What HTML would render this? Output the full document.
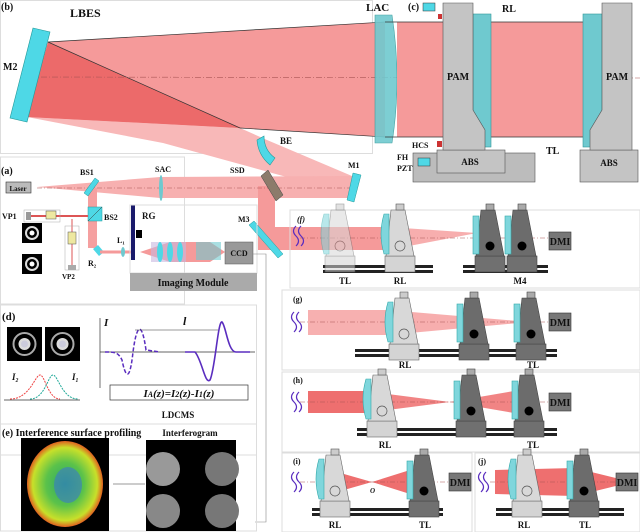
<!DOCTYPE html>
<html><head><meta charset="utf-8"><style>
html,body{margin:0;padding:0;background:#fff;}
svg{display:block;}
text{font-family:"Liberation Serif",serif;font-weight:bold;fill:#111;}
</style></head><body>
<svg width="640" height="532" viewBox="0 0 640 532" xmlns="http://www.w3.org/2000/svg">
<defs>
 <g id="lh">
  <rect x="-15" y="-16" width="30" height="16" fill="#d4d4d4" stroke="#666" stroke-width="0.6"/>
  <polygon points="-9,-62 5,-62 14,-16 -14,-16" fill="#d8d8d8" stroke="#666" stroke-width="0.6"/>
  <rect x="-4" y="-68" width="8" height="6" fill="#ccc" stroke="#555" stroke-width="0.6"/>
  <circle cx="0" cy="-26" r="5" fill="none" stroke="#555" stroke-width="0.7"/>
  <path d="M-16,-58 Q-22,-38 -16,-18 L-11,-18 L-11,-58 Z" fill="#7fd6dc" stroke="#3aa" stroke-width="0.6"/>
 </g>
 <g id="dh">
  <rect x="-15" y="-16" width="30" height="16" fill="#707070" stroke="#444" stroke-width="0.6"/>
  <polygon points="-9,-62 5,-62 14,-16 -14,-16" fill="#6c6c6c" stroke="#444" stroke-width="0.6"/>
  <rect x="-4" y="-68" width="8" height="6" fill="#aaa" stroke="#444" stroke-width="0.6"/>
  <circle cx="0" cy="-26" r="4.5" fill="#000"/>
  <rect x="-17" y="-56" width="6" height="38" fill="#7fd6dc" stroke="#3aa" stroke-width="0.6"/>
 </g>
 <g id="rail"><rect x="0" y="0" width="100" height="8" fill="#222"/><rect x="0" y="3" width="100" height="2" fill="#fff"/></g>
 <g id="wave" fill="none" stroke="#5a2dbf" stroke-width="1.2"><path d="M0,0 q-5,5 0,10 q5,5 0,10"/><path d="M5,0 q-5,5 0,10 q5,5 0,10"/></g>
 <g id="dmi"><rect x="0" y="0" width="22" height="18" fill="#777" stroke="#333" stroke-width="0.6"/><text x="11" y="13" font-size="10" text-anchor="middle" fill="#fff">DMI</text></g>
</defs>

<!-- (b) frame -->
<rect x="0.5" y="0.5" width="372" height="153" fill="none" stroke="#ddd"/>
<text x="1" y="10" font-size="10">(b)</text>
<text x="70" y="17" font-size="12">LBES</text>
<polygon points="48,42 385,22 385,137 240,128 27,117" fill="#f59a9a"/>
<polygon points="27,117 240,128 267,140 352,176 352,195 163,143" fill="#f8b8b8"/>
<polygon points="48,42 240,128 27,117" fill="#ec6a6a"/>
<line x1="48" y1="42" x2="385" y2="22" stroke="#333" stroke-width="0.7"/>
<line x1="48" y1="42" x2="240" y2="128" stroke="#333" stroke-width="0.7"/>
<line x1="240" y1="128" x2="385" y2="137" stroke="#333" stroke-width="0.7"/>
<line x1="30" y1="77" x2="640" y2="78" stroke="#a55" stroke-width="0.6" stroke-dasharray="6,2,1,2"/>
<polygon points="33,28 50,32 27,122 10,118" fill="#4ed8e6" stroke="#299" stroke-width="0.6"/>
<text x="3" y="70" font-size="10">M2</text>
<path d="M375,15 L392,15 Q402,80 392,143 L375,143 Z" fill="#6fc9cf" stroke="#399" stroke-width="0.6" opacity="0.9"/>
<text x="366" y="11" font-size="11">LAC</text>
<path d="M257,140 L264,136 Q264,150 275,158 L270,165 Q258,155 257,140Z" fill="#4ed8e6" stroke="#299" stroke-width="0.6"/>
<text x="280" y="144" font-size="9">BE</text>

<!-- (c) -->
<rect x="397" y="22" width="205" height="115" fill="#f59a9a"/>
<line x1="385" y1="22" x2="600" y2="22" stroke="#333" stroke-width="0.7"/>
<line x1="385" y1="137" x2="600" y2="137" stroke="#333" stroke-width="0.7"/>
<rect x="413" y="153" width="122" height="29" fill="#bcbcbc" stroke="#555" stroke-width="0.6"/>
<rect x="437" y="150" width="68" height="23" fill="#c4c4c4" stroke="#555" stroke-width="0.6"/>
<text x="470" y="165" font-size="9" text-anchor="middle">ABS</text>
<rect x="473" y="14" width="18" height="133" fill="#6fc9cf" stroke="#399" stroke-width="0.6"/>
<polygon points="443,3 473,3 473,110 485,130 485,150 443,150" fill="#c4c4c4" stroke="#555" stroke-width="0.6"/>
<text x="458" y="80" font-size="10" text-anchor="middle">PAM</text>
<rect x="580" y="150" width="58" height="32" fill="#c4c4c4" stroke="#555" stroke-width="0.6"/>
<text x="609" y="166" font-size="9" text-anchor="middle">ABS</text>
<rect x="583" y="14" width="19" height="133" fill="#6fc9cf" stroke="#399" stroke-width="0.6"/>
<polygon points="602,3 632,3 632,150 590,150 590,130 602,110" fill="#c4c4c4" stroke="#555" stroke-width="0.6"/>
<text x="617" y="80" font-size="10" text-anchor="middle">PAM</text>
<text x="408" y="10" font-size="10">(c)</text>
<rect x="423" y="3" width="12" height="8" fill="#4ed8e6" stroke="#333" stroke-width="0.5"/>
<rect x="438" y="14" width="4" height="5" fill="#c33"/>
<rect x="437" y="141" width="5" height="6" fill="#c33"/>
<rect x="418" y="158" width="12" height="8" fill="#4ed8e6" stroke="#333" stroke-width="0.5"/>
<text x="502" y="12" font-size="10">RL</text>
<text x="412" y="148" font-size="8">HCS</text>
<text x="397" y="160" font-size="8">FH</text>
<text x="397" y="171" font-size="8">PZT</text>
<text x="546" y="154" font-size="10">TL</text>

<!-- (a) -->
<rect x="0.5" y="157" width="184" height="147" fill="none" stroke="#ddd"/>
<text x="1" y="174" font-size="10">(a)</text>
<polygon points="37,187 160,177 352,176 352,198 160,198" fill="#f7b0b0"/>
<rect x="258" y="186" width="17" height="64" fill="#f59a9a"/>
<rect x="258" y="227" width="130" height="23" fill="#f59a9a"/>
<polygon points="388,227 477,233 388,250" fill="#f59a9a" opacity="0.8"/>
<line x1="37" y1="188" x2="355" y2="188" stroke="#a55" stroke-width="0.5" stroke-dasharray="5,2,1,2"/>
<rect x="6" y="182" width="25" height="11" fill="#bbb" stroke="#333" stroke-width="0.6"/>
<text x="18" y="191" font-size="7" text-anchor="middle">Laser</text>
<rect x="88" y="188" width="9" height="60" fill="#f5a0a0"/>
<polygon points="84,193 95,178 99,181 88,196" fill="#4ed8e6" stroke="#299" stroke-width="0.5"/>
<text x="80" y="175" font-size="8">BS1</text>
<ellipse cx="161" cy="188" rx="2" ry="13" fill="#6fc9cf"/>
<text x="155" y="172" font-size="8">SAC</text>
<polygon points="261,176 268,170 283,195 276,201" fill="#8c7b6b" stroke="#444" stroke-width="0.5"/>
<text x="230" y="173" font-size="8">SSD</text>
<polygon points="347,200 353,173 361,175 354,202" fill="#4ed8e6" stroke="#299" stroke-width="0.5"/>
<text x="348" y="168" font-size="8">M1</text>
<polygon points="249,225 254,221 283,254 278,258" fill="#4ed8e6" stroke="#299" stroke-width="0.5"/>
<text x="238" y="222" font-size="8">M3</text>
<rect x="88" y="207" width="14" height="14" fill="#4ed8e6" stroke="#299" stroke-width="0.5"/>
<line x1="88" y1="221" x2="102" y2="207" stroke="#333" stroke-width="0.5"/>
<text x="104" y="220" font-size="8">BS2</text>
<line x1="28" y1="216" x2="88" y2="216" stroke="#d55" stroke-width="2"/>
<rect x="26" y="212" width="5" height="8" fill="#999"/>
<rect x="46" y="211" width="10" height="8" fill="#eee8a0" stroke="#555" stroke-width="0.5"/>
<rect x="24" y="210" width="36" height="12" fill="none" stroke="#aaa" stroke-width="0.5"/>
<text x="2" y="219" font-size="8">VP1</text>
<line x1="72" y1="219" x2="72" y2="266" stroke="#d55" stroke-width="1"/>
<rect x="68" y="232" width="8" height="12" fill="#eee8a0" stroke="#555" stroke-width="0.5"/>
<rect x="65" y="226" width="14" height="44" fill="none" stroke="#aaa" stroke-width="0.5"/>
<rect x="68" y="265" width="8" height="5" fill="#aaa"/>
<text x="62" y="279" font-size="7">VP2</text>
<rect x="22" y="223" width="20" height="20" fill="#000"/><circle cx="32" cy="233" r="6" fill="none" stroke="#ddd" stroke-width="2"/><circle cx="32" cy="233" r="2.5" fill="#fff"/>
<rect x="22" y="254" width="20" height="20" fill="#000"/><circle cx="32" cy="264" r="6" fill="none" stroke="#ddd" stroke-width="2"/><circle cx="32" cy="264" r="2.5" fill="#fff"/>
<polygon points="93,249 98,245 104,252 99,256" fill="#4ed8e6"/>
<text x="88" y="266" font-size="8">R₂</text>
<line x1="100" y1="252" x2="135" y2="252" stroke="#f59a9a" stroke-width="3"/>
<ellipse cx="123" cy="252" rx="2" ry="5" fill="#6fc9cf"/>
<text x="117" y="243" font-size="8">L₁</text>
<rect x="131" y="205" width="4" height="55" fill="#1a1a6b"/>
<rect x="136" y="230" width="6" height="8" fill="#000"/>
<text x="142" y="219" font-size="9">RG</text>
<rect x="130" y="205" width="127" height="68" fill="none" stroke="#ddd"/>
<polygon points="140,252 170,242 210,242 225,252 210,262 170,262" fill="#f59a9a"/>
<rect x="151" y="242" width="35" height="20" fill="#c8b8e0" opacity="0.6"/>
<ellipse cx="160" cy="252" rx="3" ry="10" fill="#4ed8e6"/><ellipse cx="170" cy="252" rx="3" ry="10" fill="#4ed8e6"/><ellipse cx="180" cy="252" rx="3" ry="10" fill="#4ed8e6"/>
<rect x="196" y="242" width="25" height="18" fill="#6fc9cf" opacity="0.6"/>
<rect x="225" y="242" width="28" height="22" fill="#999" stroke="#555" stroke-width="0.5"/>
<text x="239" y="256" font-size="8" text-anchor="middle">CCD</text>
<rect x="130" y="273" width="127" height="18" fill="#aaa"/>
<text x="193" y="286" font-size="10" text-anchor="middle">Imaging Module</text>
<polyline points="253,254 266,254 266,522 255,522" fill="none" stroke="#888" stroke-width="0.6"/>

<!-- (f) -->
<rect x="290" y="210" width="350" height="78" fill="none" stroke="#ddd"/>
<line x1="300" y1="238" x2="548" y2="238" stroke="#a55" stroke-width="0.5" stroke-dasharray="5,2,1,2"/>
<text x="297" y="222" font-size="8" font-style="italic">(f)</text>
<use href="#wave" x="296" y="226"/>
<use href="#rail" transform="translate(323,265) scale(1.1,1)"/>
<use href="#rail" transform="translate(463,265) scale(0.85,1)"/>
<g opacity="0.55"><use href="#lh" transform="translate(340,272)"/></g>
<use href="#lh" transform="translate(400,272)"/>
<use href="#dh" transform="translate(490,272)"/>
<use href="#dh" transform="translate(522,272)"/>
<use href="#dmi" x="549" y="232"/>
<text x="345" y="284" font-size="9" text-anchor="middle">TL</text>
<text x="400" y="284" font-size="9" text-anchor="middle">RL</text>
<text x="520" y="284" font-size="9" text-anchor="middle">M4</text>

<!-- (g) -->
<rect x="282" y="290" width="358" height="80" fill="none" stroke="#ddd"/>
<text x="293" y="302" font-size="8">(g)</text>
<rect x="308" y="310" width="80" height="25" fill="#f7b0b0"/>
<polygon points="388,310 530,322 388,335" fill="#f59a9a" opacity="0.8"/>
<line x1="300" y1="322" x2="548" y2="322" stroke="#a55" stroke-width="0.5" stroke-dasharray="5,2,1,2"/>
<use href="#wave" x="294" y="312"/>
<use href="#rail" transform="translate(355,349) scale(2.02,1)"/>
<use href="#lh" transform="translate(404,360)"/>
<use href="#dh" transform="translate(474,360)"/>
<use href="#dh" transform="translate(531,360)"/>
<use href="#dmi" x="549" y="313"/>
<text x="405" y="368" font-size="9" text-anchor="middle">RL</text>
<text x="533" y="368" font-size="9" text-anchor="middle">TL</text>

<!-- (h) -->
<rect x="282" y="372" width="358" height="80" fill="none" stroke="#ddd"/>
<text x="293" y="383" font-size="8">(h)</text>
<rect x="308" y="391" width="60" height="22" fill="#ee6f6f"/>
<polygon points="372,392 450,402 520,390 520,414 450,402 372,412" fill="#ee6f6f" opacity="0.85"/>
<line x1="300" y1="402" x2="548" y2="402" stroke="#a55" stroke-width="0.5" stroke-dasharray="5,2,1,2"/>
<use href="#wave" x="294" y="392"/>
<use href="#rail" transform="translate(357,428) scale(2.0,1)"/>
<use href="#lh" transform="translate(382,437)"/>
<use href="#dh" transform="translate(471,437)"/>
<use href="#dh" transform="translate(529,437)"/>
<use href="#dmi" x="549" y="393"/>
<text x="385" y="448" font-size="9" text-anchor="middle">RL</text>
<text x="533" y="448" font-size="9" text-anchor="middle">TL</text>

<!-- (i) -->
<rect x="282" y="453" width="190" height="79" fill="none" stroke="#ddd"/>
<text x="293" y="464" font-size="8">(i)</text>
<polygon points="330,470 372,482 410,470 410,494 372,482 330,494" fill="#ee6f6f"/>
<line x1="300" y1="482" x2="450" y2="482" stroke="#a55" stroke-width="0.5" stroke-dasharray="5,2,1,2"/>
<use href="#wave" x="294" y="472"/>
<use href="#rail" transform="translate(312,508) scale(1.31,1)"/>
<use href="#lh" transform="translate(335,517)"/>
<use href="#dh" transform="translate(424,517)"/>
<use href="#dmi" x="449" y="473"/>
<text x="370" y="493" font-size="7" font-style="italic">O</text>
<text x="335" y="528" font-size="9" text-anchor="middle">RL</text>
<text x="425" y="528" font-size="9" text-anchor="middle">TL</text>

<!-- (j) -->
<rect x="475" y="453" width="165" height="79" fill="none" stroke="#ddd"/>
<text x="478" y="464" font-size="8">(j)</text>
<polygon points="495,470 575,468 632,482 575,496 495,494" fill="#ee6f6f"/>
<line x1="490" y1="482" x2="620" y2="482" stroke="#a55" stroke-width="0.5" stroke-dasharray="5,2,1,2"/>
<use href="#wave" x="481" y="472"/>
<use href="#rail" transform="translate(496,508) scale(1.28,1)"/>
<use href="#lh" transform="translate(527,517)"/>
<use href="#dh" transform="translate(584,517)"/>
<use href="#dmi" x="616" y="473"/>
<text x="524" y="528" font-size="9" text-anchor="middle">RL</text>
<text x="585" y="528" font-size="9" text-anchor="middle">TL</text>

<!-- (d) -->
<rect x="0.5" y="305" width="256" height="150" fill="none" stroke="#ddd"/>
<text x="2" y="320" font-size="11">(d)</text>
<rect x="7" y="327" width="35" height="34" fill="#000"/><circle cx="24.5" cy="344" r="11" fill="none" stroke="#aaa" stroke-width="2"/><circle cx="24.5" cy="344" r="6" fill="#ddd"/><circle cx="24.5" cy="344" r="3.5" fill="#ccd"/>
<rect x="45" y="327" width="35" height="34" fill="#000"/><circle cx="62.5" cy="344" r="11" fill="none" stroke="#aaa" stroke-width="2"/><circle cx="62.5" cy="344" r="6" fill="#ddd"/><circle cx="62.5" cy="344" r="3.5" fill="#ccd"/>
<text x="12" y="380" font-size="9" font-style="italic" font-weight="normal">I₂</text>
<text x="72" y="380" font-size="9" font-style="italic" font-weight="normal">I₁</text>
<line x1="4" y1="400" x2="80" y2="400" stroke="#333" stroke-width="0.7"/>
<path d="M10,399 C30,399 35,375 40,375 C45,375 48,399 60,399" fill="none" stroke="#e44" stroke-dasharray="2,1"/>
<path d="M30,399 C45,399 48,375 53,375 C58,375 62,399 78,399" fill="none" stroke="#2a9" stroke-dasharray="2,1"/>
<line x1="100" y1="352" x2="255" y2="352" stroke="#333" stroke-width="0.7"/>
<line x1="100" y1="388" x2="100" y2="318" stroke="#333" stroke-width="0.7"/>
<text x="104" y="326" font-size="11" font-style="italic">I</text>
<path d="M105,352 C115,352 118,352 122,360 C126,380 130,380 133,352 C137,322 142,322 146,350 L160,352" fill="none" stroke="#5a2dbf" stroke-width="1.5" stroke-dasharray="4,2"/>
<path d="M185,352 L195,352 C202,360 205,385 210,380 C215,370 218,320 222,322 C226,326 228,352 236,352 L250,352" fill="none" stroke="#5a2dbf" stroke-width="1.6"/>
<line x1="135" y1="330" x2="218" y2="330" stroke="#333" stroke-width="0.6"/>
<text x="183" y="325" font-size="12" font-style="italic">l</text>
<rect x="110" y="385" width="138" height="15" fill="#fff" stroke="#333" stroke-width="0.7"/>
<text x="179" y="397" font-size="11" text-anchor="middle" font-style="italic">I<tspan font-size="8">A</tspan>(z)=I<tspan font-size="8">2</tspan>(z)-I<tspan font-size="8">1</tspan>(z)</text>
<text x="178" y="418" font-size="9" text-anchor="middle">LDCMS</text>

<!-- (e) -->
<rect x="0.5" y="424" width="256" height="107" fill="none" stroke="#ddd"/>
<text x="2" y="436" font-size="10">(e) Interference surface profiling</text>
<text x="190" y="436" font-size="9" text-anchor="middle">Interferogram</text>
<rect x="21" y="438" width="88" height="93" fill="#000"/>
<defs><radialGradient id="hm" cx="50%" cy="50%" r="50%"><stop offset="0" stop-color="#2aa86a"/><stop offset="0.5" stop-color="#5bc24a"/><stop offset="0.85" stop-color="#c8e02a"/><stop offset="1" stop-color="#e06020"/></radialGradient></defs>
<ellipse cx="65" cy="484" rx="38" ry="43" fill="url(#hm)"/>
<ellipse cx="68" cy="485" rx="14" ry="18" fill="#3a7ac8" opacity="0.6"/>
<rect x="146" y="440" width="90" height="91" fill="#000"/>
<circle cx="163" cy="469" r="17" fill="#999"/><circle cx="222" cy="469" r="17" fill="#777"/>
<circle cx="163" cy="511" r="17" fill="#888"/><circle cx="222" cy="511" r="17" fill="#777"/>
<line x1="145" y1="484" x2="113" y2="484" stroke="#333" stroke-width="0.6"/>
</svg>
</body></html>
